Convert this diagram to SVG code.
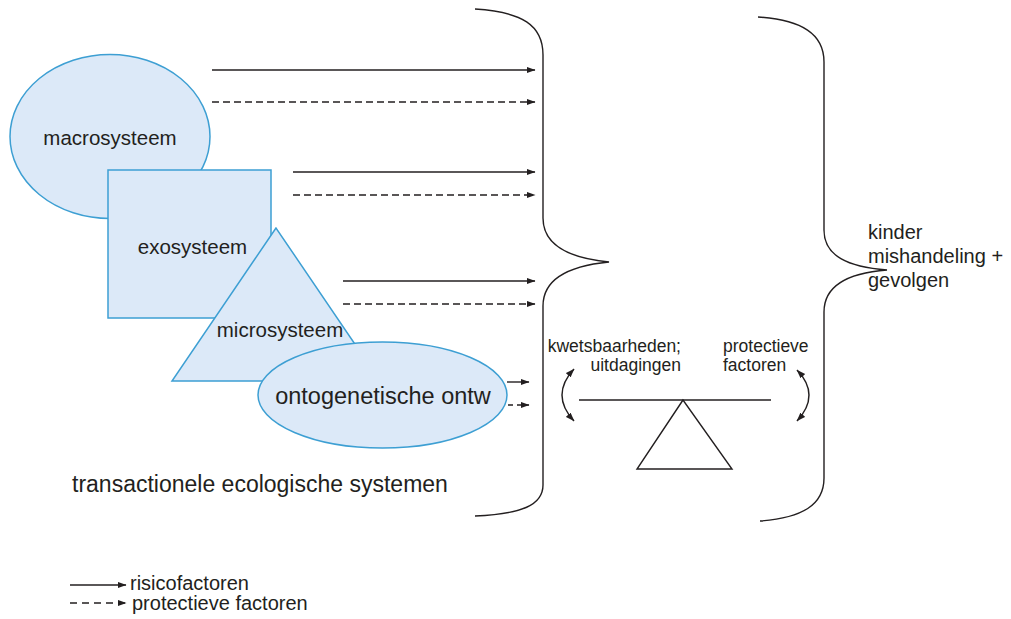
<svg xmlns="http://www.w3.org/2000/svg" width="1011" height="619" viewBox="0 0 1011 619">
<defs>
<marker id="ah" markerWidth="9" markerHeight="7" refX="8.5" refY="3.2" orient="auto-start-reverse" markerUnits="userSpaceOnUse">
<path d="M0,0 L9,3.2 L0,6.4 z" fill="#231f20"/>
</marker>
<style>
.shape{fill:#dce9f8;stroke:#3d9fd3;stroke-width:1.5}
.t{font-family:"Liberation Sans",Arial,sans-serif;fill:#231f20}
.ln{stroke:#231f20;stroke-width:1.4;fill:none}
.ar{stroke:#231f20;stroke-width:1.4;fill:none;marker-end:url(#ah)}
.da{stroke-dasharray:7 4}
.br{stroke:#231f20;stroke-width:1.4;fill:none}
</style>
</defs>
<rect width="1011" height="619" fill="#ffffff"/>
<g id="macrosysteem">
<ellipse class="shape" cx="110" cy="136.5" rx="100" ry="82"/>
<text class="t" x="110" y="145" font-size="20.5" text-anchor="middle">macrosysteem</text>
</g>
<g id="exosysteem">
<rect class="shape" x="108" y="170" width="163" height="148"/>
<text class="t" x="192.5" y="254" font-size="20.5" text-anchor="middle">exosysteem</text>
</g>
<g id="microsysteem">
<polygon class="shape" points="276,228 172,381 380,381"/>
<text class="t" x="280" y="337" font-size="20.5" text-anchor="middle">microsysteem</text>
</g>
<g id="ontogenetische">
<ellipse class="shape" cx="382.5" cy="395" rx="124.5" ry="53"/>
<text class="t" x="383" y="404" font-size="23.5" text-anchor="middle">ontogenetische ontw</text>
</g>
<g id="connectors">
<path class="ar" d="M212,70 H535"/>
<path class="ar da" d="M212,102 H535"/>
<path class="ar" d="M293,172 H535"/>
<path class="ar da" d="M293,195 H535"/>
<path class="ar" d="M343,281 H535"/>
<path class="ar da" d="M343,304 H535"/>
<path class="ar" d="M507,382 H529"/>
<path class="ar" d="M508,405 H529" stroke-dasharray="5 4"/>
<path class="ln" d="M574,369 Q550,395 574,421" marker-start="url(#ah)" marker-end="url(#ah)"/>
<path class="ln" d="M797,370 Q821,395 797,421" marker-start="url(#ah)" marker-end="url(#ah)"/>
</g>
<g id="bracket-left">
<path class="br" d="M475,9 C522,12 543,25 543,55 L543,218 C543,244 568,258 609,262 C568,266 543,280 543,306 L543,485 C543,505 522,514 475,516"/>
</g>
<g id="bracket-right">
<path class="br" d="M758,17 C802,20 824,34 824,62 L824,230 C824,256 848,267 887,270 C848,273 824,285 824,312 L824,478 C824,505 802,518 760,521"/>
</g>
<g id="balance">
<path class="ln" d="M579,400 H771"/>
<polygon points="683,400 637,469 732,469" fill="none" stroke="#231f20" stroke-width="1.4"/>
</g>
<g id="labels">
<text class="t" x="681" y="352" font-size="17.5" text-anchor="end">kwetsbaarheden;</text>
<text class="t" x="681" y="371" font-size="17.5" text-anchor="end">uitdagingen</text>
<text class="t" x="723" y="352" font-size="17.5">protectieve</text>
<text class="t" x="723" y="371" font-size="17.5">factoren</text>
<text class="t" x="868" y="239" font-size="20">kinder</text>
<text class="t" x="868" y="263" font-size="20">mishandeling +</text>
<text class="t" x="868" y="287" font-size="20">gevolgen</text>
<text class="t" x="72" y="492" font-size="23">transactionele ecologische systemen</text>
</g>
<g id="legend">
<path class="ar" d="M70,585 H126"/>
<path class="ar" d="M70,603 H126" stroke-dasharray="7 5"/>
<text class="t" x="130" y="590" font-size="20">risicofactoren</text>
<text class="t" x="132" y="610" font-size="20">protectieve factoren</text>
</g>
</svg>
